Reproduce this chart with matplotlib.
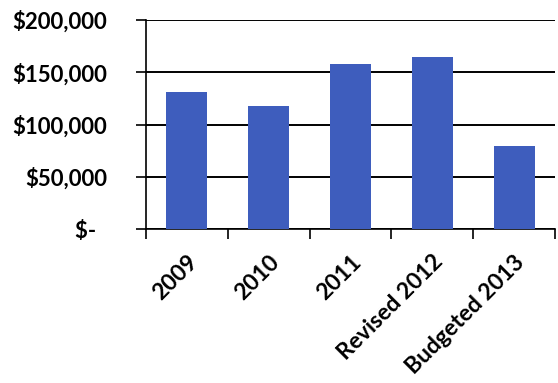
import matplotlib.pyplot as plt
import numpy as np

years = ["2009", "2010", "2011", "Revised 2012", "Budgeted 2013"]
amounts = [131000, 118000, 158000, 165000, 79000]
yticks = [0, 50000, 100000, 150000, 200000]
ylabels = ["$-  ", "$50,000", "$100,000", "$150,000", "$200,000"]

plt.rcParams['font.family'] = ['Lato', 'DejaVu Sans']

fig = plt.figure(figsize=(5.58, 3.83), dpi=100)
ax = fig.add_axes([0.2616, 0.402, 0.733, 0.5457])

x = np.arange(len(years))
ax.bar(x, amounts, width=0.5, color="#3e5dbd", zorder=3)

ax.set_xlim(-0.5, len(years) - 0.5)
ax.set_ylim(0, 200000)

# gridlines in black like the spreadsheet default
ax.set_yticks(yticks)
ax.set_yticklabels(ylabels, fontsize=16, fontweight="bold")
ax.yaxis.grid(True, color="black", linewidth=1.4, zorder=1)
ax.tick_params(axis="y", length=7, width=1.2, pad=21)

# x ticks sit between categories, labels at category centres
ax.set_xticks(np.arange(len(years) + 1) - 0.5)
ax.set_xticklabels([])
ax.set_xticks(x, minor=True)
ax.set_xticklabels(years, minor=True, rotation=45, ha="right",
                   rotation_mode="anchor", fontsize=16.5, fontweight="bold")
ax.tick_params(axis="x", which="major", length=7, width=1.2)
ax.tick_params(axis="x", which="minor", length=0, pad=16)

for side in ["top", "right"]:
    ax.spines[side].set_visible(False)
ax.spines["left"].set_linewidth(1.2)
ax.spines["bottom"].set_linewidth(1.2)

fig.savefig("out.png", dpi=100)
